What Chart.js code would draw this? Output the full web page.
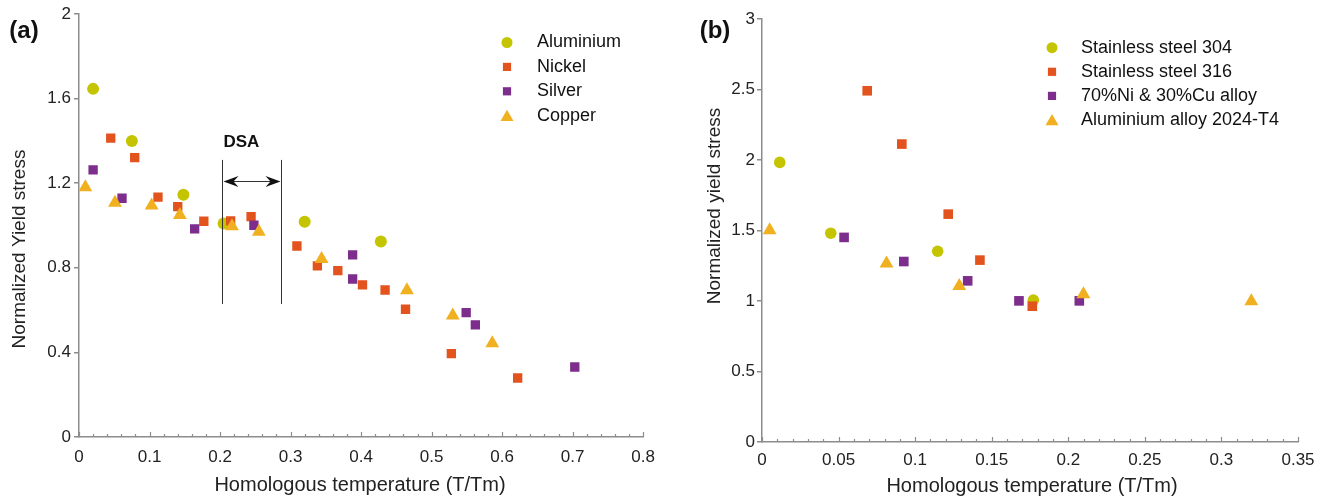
<!DOCTYPE html>
<html>
<head>
<meta charset="utf-8">
<title>Normalized yield stress</title>
<script src="https://cdn.jsdelivr.net/npm/chart.js@4.4.0/dist/chart.umd.min.js"></script>
<style>
  html, body { margin: 0; padding: 0; background: #fff; }
  #wrap { position: relative; width: 1328px; height: 499px; overflow: hidden; }
  #chartA { position: absolute; left: 0; top: 0; }
  #chartB { position: absolute; left: 665px; top: 0; }
</style>
</head>
<body>
<div id="wrap">
  <canvas id="chartA" width="665" height="499"></canvas>
  <canvas id="chartB" width="663" height="499"></canvas>
</div>
<script>
// (a) metais puros
var aluX    = [0.020, 0.075, 0.148, 0.205, 0.320, 0.428];
var aluY    = [1.646, 1.400, 1.145, 1.010, 1.018, 0.924];
var nickelX = [0.045, 0.079, 0.112, 0.140, 0.177, 0.215, 0.244, 0.309, 0.338, 0.367, 0.402, 0.434, 0.463, 0.528, 0.622];
var nickelY = [1.413, 1.321, 1.134, 1.089, 1.020, 1.022, 1.042, 0.903, 0.809, 0.787, 0.719, 0.695, 0.604, 0.394, 0.279];
var silverX = [0.020, 0.061, 0.164, 0.248, 0.388, 0.388, 0.549, 0.562, 0.703];
var silverY = [1.263, 1.129, 0.984, 1.001, 0.861, 0.747, 0.588, 0.530, 0.331];
var copperX = [0.009, 0.051, 0.103, 0.143, 0.217, 0.255, 0.344, 0.465, 0.530, 0.586];
var copperY = [1.181, 1.108, 1.094, 1.050, 0.996, 0.971, 0.842, 0.694, 0.574, 0.443];

// faixa DSA (a)
var dsaRange  = [0.203, 0.287];
var dsaSpan   = [0.629, 1.310];
var dsaArrowY = 1.211;
var dsaLabelY = 1.393;

// (b) ligas
var ss304X  = [0.0116, 0.0449, 0.1147, 0.1772];
var ss304Y  = [1.983, 1.481, 1.353, 1.006];
var ss316X  = [0.0687, 0.0913, 0.1216, 0.1423, 0.1765];
var ss316Y  = [2.491, 2.113, 1.616, 1.290, 0.963];
var niCuX   = [0.0536, 0.0926, 0.1343, 0.1678, 0.2072];
var niCuY   = [1.451, 1.280, 1.143, 1.001, 1.001];
var al2024X = [0.005, 0.0813, 0.1288, 0.2099, 0.3195];
var al2024Y = [1.502, 1.266, 1.107, 1.048, 0.999];

var FONT = "'Liberation Sans', Arial, sans-serif";
var AXIS = '#8c8c8c';
var cores = { verde: '#c4c400', laranja: '#e2531e', roxo: '#7d2d8c', amarelo: '#f0b020' };

function pontos(xs, ys) {
    return xs.map(function (x, i) { return { x: x, y: ys[i] }; });
}

function serie(label, xs, ys, cor, estilo, raio, ordem) {
    return {
        label: label,
        data: pontos(xs, ys),
        pointStyle: estilo,
        pointRadius: raio,
        pointBackgroundColor: cor,
        pointBorderWidth: 0,
        order: ordem
    };
}

function marcador(ctx, estilo, x, y, r, cor) {
    ctx.fillStyle = cor;
    ctx.beginPath();
    if (estilo === 'circle') {
        ctx.arc(x, y, r, 0, Math.PI * 2);
    } else if (estilo === 'rect') {
        var s = r * Math.SQRT1_2;
        ctx.rect(x - s, y - s, 2 * s, 2 * s);
    } else {
        ctx.moveTo(x, y - r);
        ctx.lineTo(x + r * 0.866, y + r * 0.5);
        ctx.lineTo(x - r * 0.866, y + r * 0.5);
        ctx.closePath();
    }
    ctx.fill();
}

function seta(ctx, xp, yp, dir) {
    ctx.beginPath();
    ctx.moveTo(xp, yp);
    ctx.lineTo(xp + dir * 15, yp - 5.5);
    ctx.lineTo(xp + dir * 10, yp);
    ctx.lineTo(xp + dir * 15, yp + 5.5);
    ctx.closePath();
    ctx.fill();
}

// Plugin: ticks internos no eixo x, títulos, legenda, letra do painel, DSA
var decor = {
    id: 'decor',
    afterDraw: function (chart, args, o) {
        var ctx = chart.ctx;
        var sx = chart.scales.x, sy = chart.scales.y;
        ctx.save();

        // ticks menores/maiores para dentro
        ctx.strokeStyle = AXIS;
        ctx.lineWidth = 1.2;
        var n = Math.round(sx.max / o.minor);
        for (var i = 0; i <= n; i++) {
            var px = Math.round(sx.getPixelForValue(i * o.minor)) + 0.5;
            var len = (i % 5 === 0) ? 5 : 3;
            ctx.beginPath();
            ctx.moveTo(px, sy.bottom);
            ctx.lineTo(px, sy.bottom - len);
            ctx.stroke();
        }

        // títulos dos eixos
        ctx.fillStyle = '#222';
        ctx.font = '20px ' + FONT;
        ctx.textAlign = 'center';
        ctx.textBaseline = 'alphabetic';
        ctx.fillText(o.xTitle, o.xTitlePos[0], o.xTitlePos[1]);
        ctx.save();
        ctx.translate(o.yTitlePos[0], o.yTitlePos[1]);
        ctx.rotate(-Math.PI / 2);
        ctx.font = '19px ' + FONT;
        ctx.textBaseline = 'middle';
        ctx.fillText(o.yTitle, 0, 0);
        ctx.restore();

        // letra do painel
        ctx.font = 'bold 24px ' + FONT;
        ctx.textBaseline = 'middle';
        ctx.fillStyle = '#111';
        ctx.fillText(o.letra, o.letraPos[0], o.letraPos[1]);

        // legenda
        ctx.font = '18px ' + FONT;
        ctx.textAlign = 'left';
        chart.data.datasets.forEach(function (ds, k) {
            var yy = o.leg.y + k * o.leg.dy;
            var r = ds.pointStyle === 'circle' ? 5.5 : (ds.pointStyle === 'rect' ? 5.8 : 7.5);
            marcador(ctx, ds.pointStyle, o.leg.mx, ds.pointStyle === 'triangle' ? yy + 1.5 : yy, r, ds.pointBackgroundColor);
            ctx.fillStyle = '#111';
            ctx.fillText(ds.label, o.leg.tx, yy);
        });

        // faixa DSA
        if (o.dsa) {
            var x1 = Math.round(sx.getPixelForValue(dsaRange[0])) + 0.5;
            var x2 = Math.round(sx.getPixelForValue(dsaRange[1])) + 0.5;
            var yt = sy.getPixelForValue(dsaSpan[1]);
            var yb = sy.getPixelForValue(dsaSpan[0]);
            ctx.strokeStyle = '#333';
            ctx.lineWidth = 1;
            ctx.beginPath();
            ctx.moveTo(x1, yt); ctx.lineTo(x1, yb);
            ctx.moveTo(x2, yt); ctx.lineTo(x2, yb);
            var ya = Math.round(sy.getPixelForValue(dsaArrowY)) + 0.5;
            ctx.moveTo(x1 + 6, ya); ctx.lineTo(x2 - 6, ya);
            ctx.stroke();
            ctx.fillStyle = '#111';
            seta(ctx, x1 + 1, ya, 1);
            seta(ctx, x2 - 1, ya, -1);
            ctx.font = 'bold 17px ' + FONT;
            ctx.textAlign = 'left';
            ctx.textBaseline = 'middle';
            ctx.fillText('DSA', x1 + 1, sy.getPixelForValue(dsaLabelY));
        }
        ctx.restore();
    }
};

function rotulo(v) {
    return String(Math.round(v * 1000) / 1000);
}

function criarGrafico(id, datasets, opt) {
    var ctx = document.getElementById(id).getContext('2d');
    return new Chart(ctx, {
        type: 'scatter',
        data: { datasets: datasets },
        options: {
            responsive: false,
            animation: false,
            layout: { padding: opt.padding },
            plugins: {
                legend: { display: false },
                tooltip: { enabled: false },
                decor: opt.decor
            },
            scales: {
                x: {
                    type: 'linear',
                    min: 0,
                    max: opt.xMax,
                    ticks: {
                        stepSize: opt.xStep,
                        padding: opt.xPad,
                        color: '#222',
                        font: { family: FONT, size: 17 },
                        maxRotation: 0,
                        callback: rotulo
                    },
                    grid: { display: false, drawTicks: false },
                    border: { color: AXIS, width: 1.5 },
                    afterFit: function (s) { s.height = opt.xHeight; }
                },
                y: {
                    type: 'linear',
                    min: 0,
                    max: opt.yMax,
                    ticks: {
                        stepSize: opt.yStep,
                        padding: opt.yPad,
                        color: '#222',
                        font: { family: FONT, size: 17 },
                        callback: rotulo
                    },
                    grid: {
                        display: true,
                        drawOnChartArea: false,
                        drawTicks: true,
                        tickLength: 5,
                        color: AXIS,
                        lineWidth: 1.5
                    },
                    border: { color: AXIS, width: 1.5 },
                    afterFit: function (s) { s.width = opt.yWidth; }
                }
            }
        },
        plugins: [decor]
    });
}

var graficoA = criarGrafico('chartA', [
    serie('Aluminium', aluX, aluY, cores.verde, 'circle', 6, 3),
    serie('Nickel', nickelX, nickelY, cores.laranja, 'rect', 6.6, 2),
    serie('Silver', silverX, silverY, cores.roxo, 'rect', 6.6, 1),
    serie('Copper', copperX, copperY, cores.amarelo, 'triangle', 8, 0)
], {
    padding: { top: 14, right: 20, left: 0, bottom: 0 },
    xMax: 0.8, xStep: 0.1, xPad: 10, xHeight: 62,
    yMax: 2, yStep: 0.4, yPad: 3, yWidth: 79,
    decor: {
        minor: 0.02,
        xTitle: 'Homologous temperature (T/Tm)', xTitlePos: [360, 491],
        yTitle: 'Normalized Yield stress', yTitlePos: [20, 249],
        letra: '(a)', letraPos: [24, 31],
        leg: { mx: 507, tx: 537, y: 42.5, dy: 24.4 },
        dsa: true
    }
});

var graficoB = criarGrafico('chartB', [
    serie('Stainless steel 304', ss304X, ss304Y, cores.verde, 'circle', 5.8, 3),
    serie('Stainless steel 316', ss316X, ss316Y, cores.laranja, 'rect', 6.8, 2),
    serie('70%Ni & 30%Cu alloy', niCuX, niCuY, cores.roxo, 'rect', 6.8, 1),
    serie('Aluminium alloy 2024-T4', al2024X, al2024Y, cores.amarelo, 'triangle', 8, 0)
], {
    padding: { top: 19, right: 30, left: 0, bottom: 0 },
    xMax: 0.35, xStep: 0.05, xPad: 8, xHeight: 57,
    yMax: 3, yStep: 0.5, yPad: 2, yWidth: 97,
    decor: {
        minor: 0.01,
        xTitle: 'Homologous temperature (T/Tm)', xTitlePos: [367, 492],
        yTitle: 'Normalized yield stress', yTitlePos: [50, 206],
        letra: '(b)', letraPos: [50, 31],
        leg: { mx: 387, tx: 416, y: 47.7, dy: 24.1 },
        dsa: false
    }
});
</script>
</body>
</html>
